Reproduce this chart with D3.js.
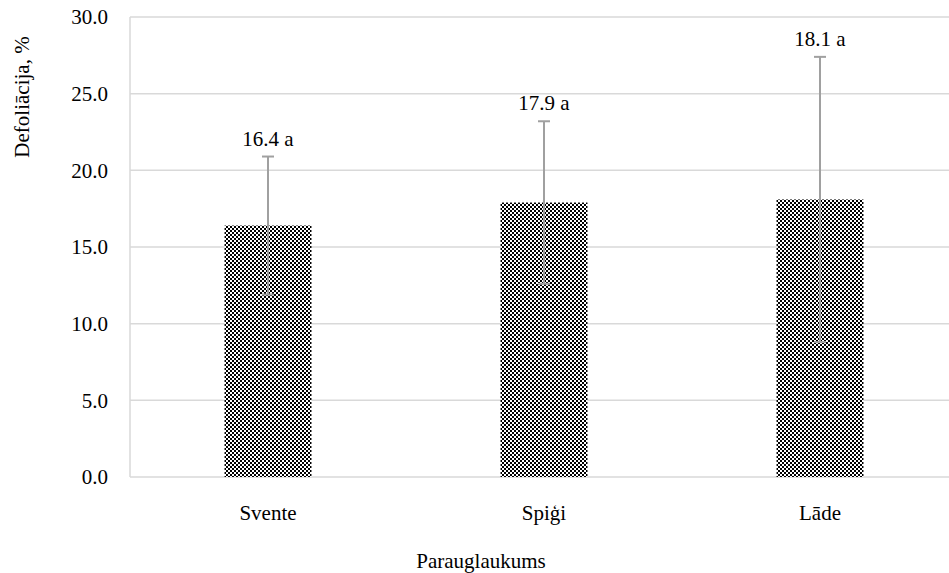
<!DOCTYPE html>
<html>
  <head>
    <meta charset="utf-8">
    <title>Defoliācija</title>
    <style>
      body { margin: 0; background: #fff; }
      .grid line { stroke: #d9d9d9; stroke-width: 1.5px; }
      .err { stroke: #a0a0a0; stroke-width: 2px; fill: none; }
    </style>
  </head>
  <body>
    <div id="chart"></div>
    <script src="https://cdn.jsdelivr.net/npm/d3@7/dist/d3.min.js"></script>
    <script>
      // values
      const sites = ["Svente", "Spiģi", "Lāde"];
      const means = [16.4, 17.9, 18.1];
      const sds = [4.5, 5.3, 9.3];
      const letters = ["a", "a", "a"];
      const yTicks = [0, 5, 10, 15, 20, 25, 30];

      const width = 949;
      const height = 573;
      const plot = { left: 130, right: 958, top: 17, bottom: 477 };
      const serif = "Times New Roman, Liberation Serif, DejaVu Serif, serif";

      const svg = d3.select("#chart")
          .append("svg")
          .attr("width", width)
          .attr("height", height);

      // small helper so every label gets the same font
      function label(sel) {
        return sel.style("font-family", serif).style("font-size", "21px").attr("fill", "#000");
      }

      // checker fill like the excel pattern
      const pat = svg.append("defs").append("pattern")
          .attr("id", "checker")
          .attr("patternUnits", "userSpaceOnUse")
          .attr("width", 4)
          .attr("height", 4);
      pat.append("rect").attr("width", 4).attr("height", 4).attr("fill", "#fff");
      pat.append("rect").attr("width", 2).attr("height", 2).attr("fill", "#000");
      pat.append("rect").attr("x", 2).attr("y", 2).attr("width", 2).attr("height", 2).attr("fill", "#000");

      const x = d3.scaleBand().domain(sites).range([plot.left, plot.right]).padding(0);
      const y = d3.scaleLinear().domain([0, 30]).range([plot.bottom, plot.top]);
      const barW = x.bandwidth() * 0.315;

      // gridlines
      svg.append("g")
          .attr("class", "grid")
          .selectAll("line")
          .data(yTicks)
          .enter().append("line")
          .attr("x1", plot.left)
          .attr("x2", width)
          .attr("y1", d => y(d))
          .attr("y2", d => y(d));

      // left axis line
      svg.append("line")
          .attr("x1", plot.left).attr("x2", plot.left)
          .attr("y1", y(30)).attr("y2", y(0))
          .attr("stroke", "#d9d9d9").attr("stroke-width", 1.5);

      // y tick labels
      svg.append("g")
          .selectAll("text")
          .data(yTicks)
          .enter().append("text")
          .attr("x", 108)
          .attr("y", d => y(d))
          .attr("dy", "0.35em")
          .attr("text-anchor", "end")
          .call(label)
          .text(d => d.toFixed(1));

      const cx = d => x(d) + x.bandwidth() / 2;

      // bars
      svg.append("g")
          .selectAll("rect")
          .data(sites)
          .enter().append("rect")
          .attr("x", d => cx(d) - barW / 2)
          .attr("y", (d, i) => y(means[i]))
          .attr("width", barW)
          .attr("height", (d, i) => y(0) - y(means[i]))
          .attr("fill", "url(#checker)");

      // error bars
      const eb = svg.append("g").attr("class", "err");
      sites.forEach((s, i) => {
        const hi = y(means[i] + sds[i]);
        const lo = y(means[i] - sds[i]);
        eb.append("line").attr("x1", cx(s)).attr("x2", cx(s)).attr("y1", hi).attr("y2", lo);
        eb.append("line").attr("x1", cx(s) - 6).attr("x2", cx(s) + 6).attr("y1", hi).attr("y2", hi);
        eb.append("line").attr("x1", cx(s) - 6).attr("x2", cx(s) + 6).attr("y1", lo).attr("y2", lo);
      });

      // value labels
      svg.append("g")
          .selectAll("text")
          .data(sites)
          .enter().append("text")
          .attr("x", d => cx(d))
          .attr("y", (d, i) => y(means[i] + sds[i]) - 11)
          .attr("text-anchor", "middle")
          .call(label)
          .text((d, i) => means[i].toFixed(1) + " " + letters[i]);

      // category labels
      svg.append("g")
          .selectAll("text")
          .data(sites)
          .enter().append("text")
          .attr("x", d => cx(d))
          .attr("y", 520)
          .attr("text-anchor", "middle")
          .call(label)
          .text(d => d);

      // axis titles
      svg.append("text")
          .attr("x", 481)
          .attr("y", 568)
          .attr("text-anchor", "middle")
          .call(label)
          .text("Parauglaukums");

      svg.append("text")
          .attr("transform", "translate(29,97) rotate(-90)")
          .attr("text-anchor", "middle")
          .call(label)
          .text("Defoliācija, %");
    </script>
  </body>
</html>
